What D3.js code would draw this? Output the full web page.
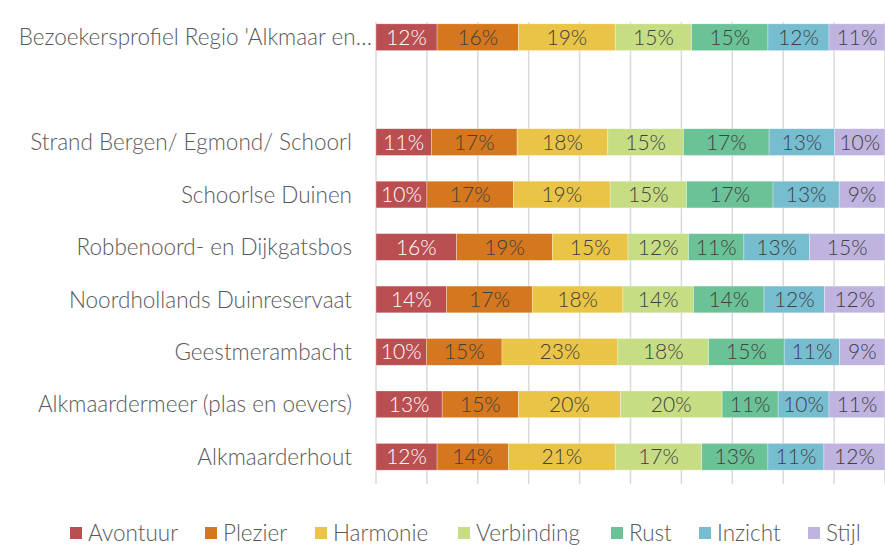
<!DOCTYPE html>
<meta charset="utf-8">
<style>
body { margin: 0; background: #fff; }
svg { font-family: "Lato", "Open Sans", sans-serif; font-weight: 300; }
.grid line { stroke: #d9d9d9; stroke-width: 1.5; }
.cat { fill: #595959; font-size: 22.5px; }
.lbl { font-size: 21px; }
.legend text { fill: #595959; font-size: 22.5px; }
</style>
<body>
<script src="https://d3js.org/d3.v7.min.js"></script>
<script>

// categories top to bottom, "" is the empty spacer row
var categories = [
  "Bezoekersprofiel Regio 'Alkmaar en…",
  "",
  "Strand Bergen/ Egmond/ Schoorl",
  "Schoorlse Duinen",
  "Robbenoord- en Dijkgatsbos",
  "Noordhollands Duinreservaat",
  "Geestmerambacht",
  "Alkmaardermeer (plas en oevers)",
  "Alkmaarderhout"
];

var seriesNames = ["Avontuur", "Plezier", "Harmonie", "Verbinding", "Rust", "Inzicht", "Stijl"];
var colors = ["#b94f51", "#d4771e", "#e9c447", "#c7dd83", "#6bc297", "#77bdd0", "#bfb3e0"];

// percentages per series, in category order (null = spacer)
var avontuur   = [12, null, 11, 10, 16, 14, 10, 13, 12];
var plezier    = [16, null, 17, 17, 19, 17, 15, 15, 14];
var harmonie   = [19, null, 18, 19, 15, 18, 23, 20, 21];
var verbinding = [15, null, 15, 15, 12, 14, 18, 20, 17];
var rust       = [15, null, 17, 17, 11, 14, 15, 11, 13];
var inzicht    = [12, null, 13, 13, 13, 12, 11, 10, 11];
var stijl      = [11, null, 10,  9, 15, 12,  9, 11, 12];

var seriesValues = [avontuur, plezier, harmonie, verbinding, rust, inzicht, stijl];

var W = 885, H = 545;
var margin = {top: 11, right: 0, bottom: 62, left: 376};

var rows = categories.map(function(c, i) {
  var r = {cat: c, idx: i};
  seriesNames.forEach(function(s, j) { r[s] = seriesValues[j][i] || 0; });
  return r;
});

var stack = d3.stack().keys(seriesNames).offset(d3.stackOffsetExpand);
var layers = stack(rows.filter(function(r) { return r.cat !== ""; }));

var x = d3.scaleLinear().domain([0, 1]).range([margin.left, 885]);
var y = d3.scaleBand().domain(categories).range([margin.top, H - margin.bottom])
  .paddingInner(0.49).paddingOuter(0.245);

var svg = d3.select("body").append("svg")
  .attr("width", W)
  .attr("height", H);

// vertical gridlines every 10%
svg.append("g").attr("class", "grid")
  .selectAll("line")
  .data(d3.range(0, 1.0001, 0.1))
  .enter().append("line")
    .attr("x1", function(d) { return x(d); })
    .attr("x2", function(d) { return x(d); })
    .attr("y1", 22)
    .attr("y2", 484);

var g = svg.append("g").selectAll("g")
  .data(layers)
  .enter().append("g")
    .attr("fill", function(d, i) { return colors[i]; });

g.selectAll("rect")
  .data(function(d) { return d; })
  .enter().append("rect")
    .attr("x", function(d) { return x(d[0]); })
    .attr("width", function(d) { return x(d[1]) - x(d[0]); })
    .attr("y", function(d) { return y(d.data.cat); })
    .attr("height", y.bandwidth())
    .attr("stroke", "rgba(255,255,255,0.5)")
    .attr("stroke-width", 0.6);

g.selectAll("text")
  .data(function(d, i) { return d.map(function(p) { return {p: p, key: d.key, i: i}; }); })
  .enter().append("text")
    .attr("class", "lbl")
    .attr("x", function(d) { return (x(d.p[0]) + x(d.p[1])) / 2; })
    .attr("y", function(d) { return y(d.p.data.cat) + y.bandwidth() / 2; })
    .attr("dy", "0.36em")
    .attr("text-anchor", "middle")
    .attr("fill", function(d) { return d.i === 0 ? "#ffffff" : "#404040"; })
    .text(function(d) { return d.p.data[d.key] + "%"; });

// category labels
svg.append("g").selectAll("text")
  .data(categories.filter(function(c) { return c !== ""; }))
  .enter().append("text")
    .attr("class", "cat")
    .attr("x", function(d, i) { return i === 0 ? 372 : 352; })
    .attr("y", function(d) { return y(d) + y.bandwidth() / 2; })
    .attr("dy", "0.36em")
    .attr("text-anchor", "end")
    .text(function(d) { return d; });

// legend
var legendX = [70, 205, 315, 458, 611, 699, 808];
var legend = svg.append("g").attr("class", "legend")
  .selectAll("g")
  .data(seriesNames)
  .enter().append("g")
    .attr("transform", function(d, i) { return "translate(" + legendX[i] + ",527)"; });

legend.append("rect")
  .attr("width", 12).attr("height", 12)
  .attr("fill", function(d, i) { return colors[i]; });

legend.append("text")
  .attr("x", 18)
  .attr("y", 6)
  .attr("dy", "0.36em")
  .text(function(d) { return d; });

</script>
